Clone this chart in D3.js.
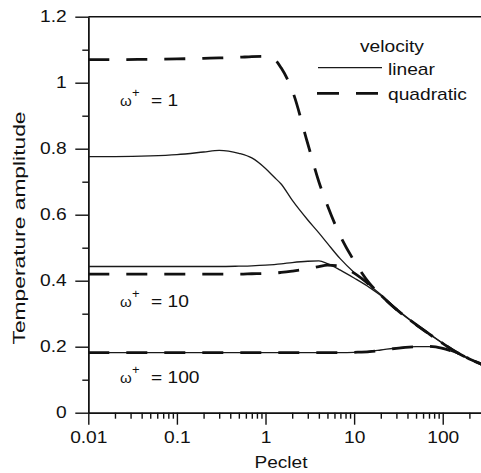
<!DOCTYPE html>
<html lang="en">
<head>
<meta charset="UTF-8">
<style>
  body { margin: 0; background: #fff; }
  text { font-family: Arial, "Liberation Sans", sans-serif; fill: #111; }
</style>
</head>
<body>
<script src="https://d3js.org/d3.v7.min.js"></script>
<script>
// Peclet grid shared by all curves
var peclet = [0.01, 0.02, 0.05, 0.1, 0.2, 0.3, 0.5, 0.7, 1, 1.25, 1.5, 2, 3, 4, 5, 7, 10, 15, 20, 30, 50, 70, 100, 150, 200, 300]

// temperature amplitude, linear velocity profile
var lin1   = [0.776, 0.776, 0.778, 0.782, 0.790, 0.795, 0.786, 0.772, 0.740, 0.714, 0.693, 0.644, 0.584, 0.545, 0.513, 0.466, 0.425, 0.386, 0.358, 0.315, 0.268, 0.240, 0.211, 0.180, 0.163, 0.143]
var lin10  = [0.443, 0.443, 0.443, 0.443, 0.443, 0.443, 0.444, 0.445, 0.447, 0.449, 0.451, 0.455, 0.459, 0.460, 0.452, 0.432, 0.408, 0.379, 0.355, 0.313, 0.267, 0.239, 0.210, 0.180, 0.163, 0.143]
var lin100 = [0.182, 0.182, 0.182, 0.182, 0.182, 0.182, 0.182, 0.182, 0.182, 0.182, 0.182, 0.182, 0.182, 0.182, 0.182, 0.182, 0.183, 0.186, 0.190, 0.196, 0.200, 0.200, 0.194, 0.178, 0.163, 0.143]
// quadratic velocity profile
var quad1   = [1.070, 1.070, 1.071, 1.072, 1.074, 1.075, 1.077, 1.079, 1.080, 1.072, 1.045, 0.977, 0.815, 0.700, 0.628, 0.535, 0.460, 0.391, 0.356, 0.313, 0.267, 0.239, 0.210, 0.180, 0.163, 0.143]
var quad10  = [0.420, 0.420, 0.420, 0.420, 0.420, 0.420, 0.420, 0.421, 0.422, 0.423, 0.425, 0.429, 0.436, 0.443, 0.447, 0.445, 0.423, 0.387, 0.356, 0.313, 0.267, 0.239, 0.210, 0.180, 0.163, 0.143]
var quad100 = [0.182, 0.182, 0.182, 0.182, 0.182, 0.182, 0.182, 0.182, 0.182, 0.182, 0.182, 0.182, 0.182, 0.182, 0.182, 0.182, 0.183, 0.185, 0.189, 0.195, 0.200, 0.201, 0.195, 0.179, 0.163, 0.143]

var xTicks = [0.01, 0.1, 1, 10, 100]
var xTickLabels = ['0.01', '0.1', '1', '10', '100']
var yTicks = [0, 0.2, 0.4, 0.6, 0.8, 1, 1.2]
var yTickLabels = ['0', '0.2', '0.4', '0.6', '0.8', '1', '1.2']
var omegaLabels = ['1', '10', '100']
var omegaLevels = [0.93, 0.32, 0.09]

var W = 481, H = 473

var svg = d3.select('body').append('svg')
    .attr('width', W)
    .attr('height', H)

var x = d3.scaleLog().domain([0.01, 300]).range([88.3, 485])
var y = d3.scaleLinear().domain([0, 1.2]).range([412.7, 16.7])

// minor ticks
var xMinor = []
;[0.01, 0.1, 1, 10, 100].forEach(function (d) {
    for (var k = 2; k <= 9; k++) if (d * k <= 300) xMinor.push(d * k)
})
var yMinor = d3.range(0.1, 1.2, 0.2)

var axisStyle = function (g) {
    g.selectAll('path, line').attr('stroke', '#111').attr('stroke-width', 1.4)
}

svg.append('g')
    .attr('transform', 'translate(0,' + y(0) + ')')
    .call(d3.axisBottom(x).tickValues(xMinor).tickSize(6).tickSizeOuter(0).tickFormat(''))
    .call(axisStyle)

var xAxis = svg.append('g')
    .attr('transform', 'translate(0,' + y(0) + ')')
    .call(d3.axisBottom(x).tickValues(xTicks).tickSize(12).tickSizeOuter(0).tickPadding(7)
        .tickFormat(function (d, i) { return xTickLabels[i] }))
    .call(axisStyle)
xAxis.selectAll('text').attr('font-size', 16).attr('font-family', null)
    .attr('transform', 'scale(1.2,1)')

svg.append('g')
    .attr('transform', 'translate(' + x(0.01) + ',0)')
    .call(d3.axisLeft(y).tickValues(yMinor).tickSize(6).tickSizeOuter(0).tickFormat(''))
    .call(axisStyle)

var yAxis = svg.append('g')
    .attr('transform', 'translate(' + x(0.01) + ',0)')
    .call(d3.axisLeft(y).tickValues(yTicks).tickSize(13).tickSizeOuter(0).tickPadding(5)
        .tickFormat(function (d, i) { return yTickLabels[i] }))
    .call(axisStyle)
yAxis.selectAll('text').attr('font-size', 16).attr('font-family', null)
    .attr('transform', 'scale(1.2,1)')

// top frame line
svg.append('line')
    .attr('x1', x(0.01)).attr('x2', x(300))
    .attr('y1', y(1.2)).attr('y2', y(1.2))
    .attr('stroke', '#111').attr('stroke-width', 1.4)

// axis titles
svg.append('text')
    .attr('x', 281).attr('y', 468)
    .attr('text-anchor', 'middle')
    .attr('font-size', 16)
    .attr('textLength', 53).attr('lengthAdjust', 'spacingAndGlyphs')
    .text('Peclet')

svg.append('text')
    .attr('transform', 'translate(25,228) rotate(-90)')
    .attr('text-anchor', 'middle')
    .attr('font-size', 17)
    .attr('textLength', 233).attr('lengthAdjust', 'spacingAndGlyphs')
    .text('Temperature amplitude')

// curves
var line = d3.line()
    .x(function (d) { return x(d[0]) })
    .y(function (d) { return y(d[1]) })
    .curve(d3.curveMonotoneX)

;[lin1, lin10, lin100].forEach(function (s) {
    svg.append('path')
        .attr('d', line(d3.zip(peclet, s)))
        .attr('fill', 'none')
        .attr('stroke', '#1a1a1a')
        .attr('stroke-width', 1.3)
})
;[quad1, quad10, quad100].forEach(function (s) {
    svg.append('path')
        .attr('d', line(d3.zip(peclet, s)))
        .attr('fill', 'none')
        .attr('stroke', '#111')
        .attr('stroke-width', 2.8)
        .attr('stroke-dasharray', '21,17')
})

// omega labels
omegaLabels.forEach(function (lab, i) {
    var by = y(omegaLevels[i])
    svg.append('text').attr('x', 120).attr('y', by).attr('font-size', 15).text('ω')
    svg.append('text').attr('x', 132).attr('y', by - 9).attr('font-size', 13).text('+')
    svg.append('text')
        .attr('transform', 'translate(151,' + by + ') scale(1.2,1)')
        .attr('font-size', 16)
        .text('= ' + lab)
})

// legend
svg.append('text')
    .attr('transform', 'translate(360,51.7) scale(1.2,1)')
    .attr('font-size', 16)
    .text('velocity')
svg.append('line')
    .attr('x1', 318).attr('x2', 382).attr('y1', 67.7).attr('y2', 67.7)
    .attr('stroke', '#1a1a1a').attr('stroke-width', 1.3)
svg.append('text')
    .attr('transform', 'translate(388,75) scale(1.2,1)')
    .attr('font-size', 16)
    .text('linear')
svg.append('line')
    .attr('x1', 317).attr('x2', 378).attr('y1', 93.3).attr('y2', 93.3)
    .attr('stroke', '#111').attr('stroke-width', 2.8)
    .attr('stroke-dasharray', '22,17')
svg.append('text')
    .attr('transform', 'translate(388,100) scale(1.2,1)')
    .attr('font-size', 16)
    .text('quadratic')
</script>
</body>
</html>
